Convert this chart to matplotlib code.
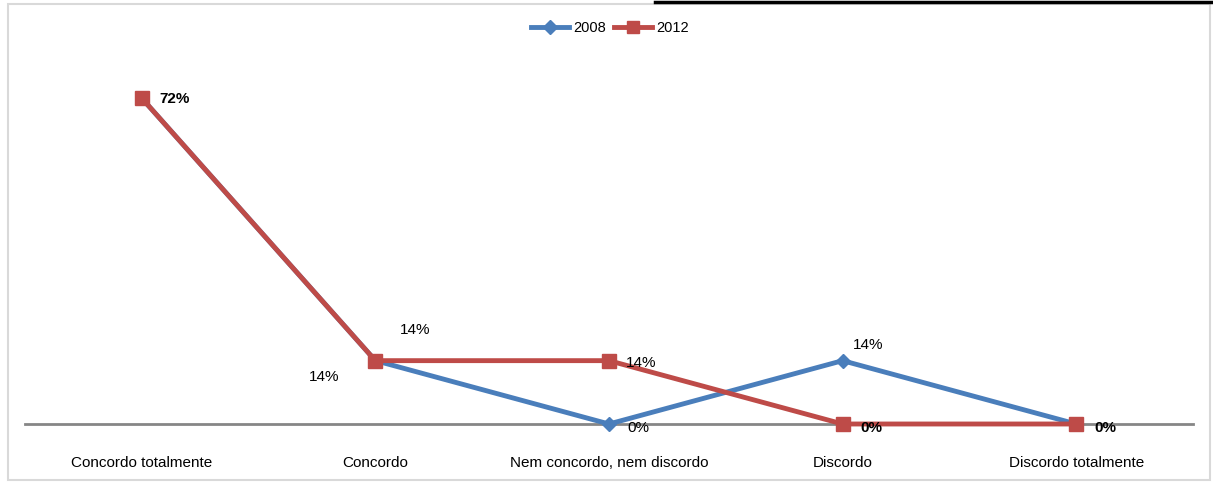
import matplotlib.pyplot as plt
from matplotlib.lines import Line2D

# data
categorias = ['Concordo totalmente', 'Concordo', 'Nem concordo, nem discordo',
              'Discordo', 'Discordo totalmente']
v2008 = [0.72, 0.14, 0.00, 0.14, 0.00]
v2012 = [0.72, 0.14, 0.14, 0.00, 0.00]

azul = '#4A7EBB'
vermelho = '#BE4B48'

plt.rcParams['font.family'] = ['Liberation Sans', 'DejaVu Sans']

fig = plt.figure(figsize=(12.13, 4.84), dpi=100)
W, H = 1213, 484
ax = fig.add_axes([25 / W, (H - 424) / H, (1193 - 25) / W, (424 - 62) / H])

x = list(range(len(categorias)))
ax.plot(x, v2008, color=azul, lw=3.5, marker='D', ms=7, mec=azul, label='2008',
        solid_joinstyle='miter', zorder=3, clip_on=False)
ax.plot(x, v2012, color=vermelho, lw=3.5, marker='s', ms=10.5, mec=vermelho, label='2012',
        solid_joinstyle='miter', zorder=4, clip_on=False)

ax.set_xlim(-0.5, len(categorias) - 0.5)
ax.set_ylim(0, 0.8)
ax.axhline(0, color='#868686', lw=2, zorder=2, clip_on=False)
for s in ax.spines.values():
    s.set_visible(False)
ax.set_yticks([])
ax.set_xticks(x)
ax.set_xticklabels(categorias, fontsize=11)
ax.tick_params(axis='x', length=0, pad=23)
ax.patch.set_alpha(0)


def pct(v):
    return f'{round(v * 100):d}%'


# labels: (series, index, dx px, dy px, bold)
rotulos = [
    (v2012, 0, 18, -1, True),
    (v2012, 1, 24, 31, False),
    (v2008, 1, -67, -16, False),
    (v2012, 2, 17, -2, False),
    (v2008, 2, 18, -4, False),
    (v2008, 3, 10, 16, False),
    (v2012, 3, 18, -4, True),
    (v2012, 4, 18, -4, True),
]
for serie, i, dx, dy, bold in rotulos:
    ax.annotate(pct(serie[i]), (i, serie[i]), xytext=(dx, dy), textcoords='offset pixels',
                ha='left', va='center', fontsize=11,
                fontweight='bold' if bold else 'normal', zorder=5)

handles = [
    Line2D([], [], color=azul, lw=3.5, marker='D', ms=7),
    Line2D([], [], color=vermelho, lw=3.5, marker='s', ms=9),
]
fig.legend(handles, ['2008', '2012'], loc='center', bbox_to_anchor=(610 / W, 1 - 28 / H),
           ncol=2, frameon=False, fontsize=10.5, handlelength=2.6, columnspacing=0.6,
           handletextpad=0.3)

# chart border
fig.add_artist(plt.Rectangle((8 / W, 4 / H), 1202 / W, 476 / H, transform=fig.transFigure,
                             fill=False, ec='#D9D9D9', lw=1.5))
fig.add_artist(Line2D([655 / W, 1], [1 - 2 / H, 1 - 2 / H], transform=fig.transFigure,
                      color='black', lw=2.5))

fig.savefig('out.png', dpi=100)
